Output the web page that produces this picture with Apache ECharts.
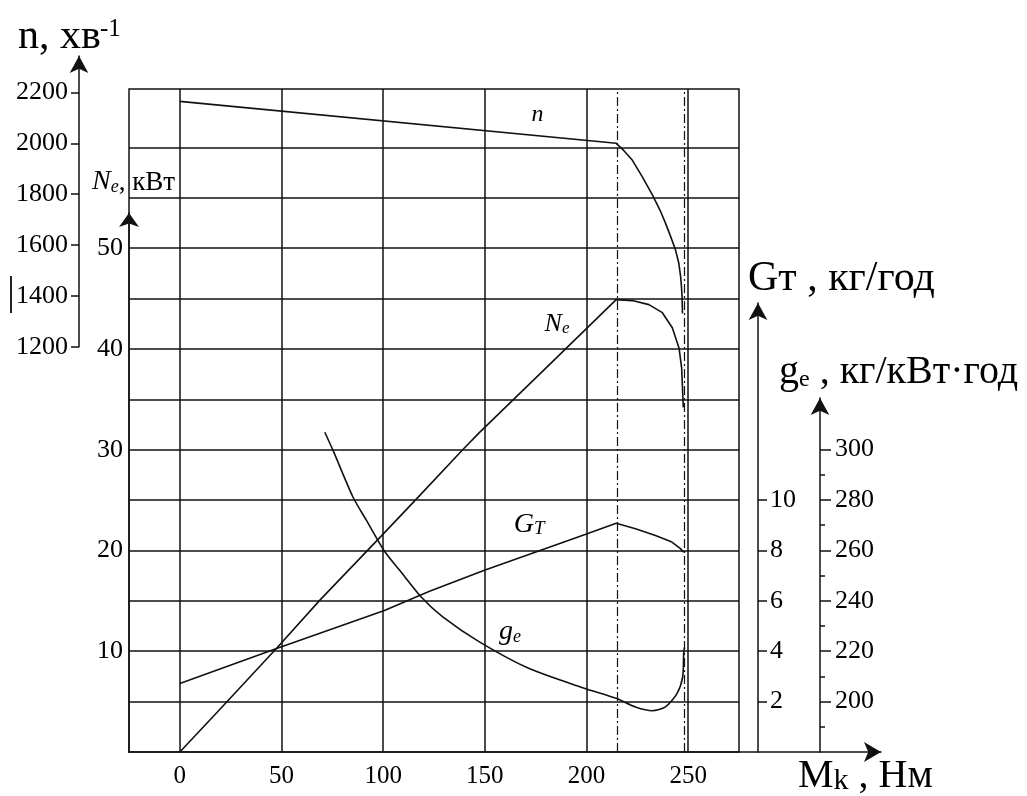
<!DOCTYPE html>
<html><head><meta charset="utf-8">
<script src="https://cdn.jsdelivr.net/npm/echarts@6/dist/echarts.min.js"></script>
<style>html,body{margin:0;padding:0;background:#fff}#c{width:1027px;height:796px}</style>
</head><body><div id="c"></div>
<script>
// ---- data ----
const torqueTicks = [0, 50, 100, 150, 200, 250];
const speedTicks = [1200, 1400, 1600, 1800, 2000, 2200];
const powerTicks = [10, 20, 30, 40, 50];
const powerGrid = [5, 10, 15, 20, 25, 30, 35, 40, 45, 50, 55, 60];
const fuelTicks = [2, 4, 6, 8, 10];
const sfcTicks = [200, 220, 240, 260, 280, 300];
const sfcMinorTicks = [190, 210, 230, 250, 270, 290];
const markTorque = [215, 248];

const speedM = [0, 214.6, 218.4, 222.5, 227.4, 232.4, 236.5, 238.9, 241.4, 243.8, 245.4, 246.3, 246.7, 247.0, 247.2];
const speedN = [2165, 2000, 1971, 1934, 1869, 1797, 1731, 1685, 1633, 1580, 1528, 1475, 1436, 1397, 1331];

const powerM = [0, 19.5, 47.6, 69, 97.5, 116.3, 139.1, 147.3, 180, 214.6, 222.5, 230.7, 237.3, 242.2, 245.5, 246.8, 247.4, 247.6];
const powerNe = [0, 4.2, 10.3, 15.1, 21.1, 25.1, 30.0, 31.7, 38.1, 44.9, 44.8, 44.4, 43.6, 42.1, 40.1, 38.1, 35.2, 34.2];

const fuelM = [0, 47.6, 100.6, 122.8, 149.8, 178.2, 199.3, 214.6, 224.1, 233.9, 242.0, 246.2, 247.8];
const fuelGt = [2.72, 4.11, 5.62, 6.38, 7.21, 8.03, 8.63, 9.08, 8.86, 8.59, 8.33, 8.07, 7.93];

const sfcM = [71.3, 75.4, 85.2, 91.8, 100.4, 108.1, 118.7, 129.3, 147.3, 171.8, 199.3, 214.6, 224.1, 232.3, 238.8, 244.5, 247.3, 247.8, 248.2];
const sfcGe = [306.9, 299.6, 281.1, 271.9, 260, 252.1, 241.5, 233.6, 223.7, 213.1, 205.2, 201.3, 197.9, 196.4, 197.9, 203.2, 209.8, 219.1, 221.5];

// ---- helpers ----
const zip = (a, b) => a.map((v, i) => [v, b[i]]);
const FONT = 'Liberation Serif';
const BLACK = '#111';
const lbl = (size, margin, vals) => ({ show: true, customValues: vals, color: '#000', fontFamily: FONT, fontSize: size, margin: margin, formatter: v => String(v) });
const hiddenX = (gi) => ({ type: 'value', gridIndex: gi, min: -25, max: 275, show: false });
const arrowLine = (size) => ({ show: true, onZero: false, symbol: ['none', 'arrow'], symbolSize: size, lineStyle: { color: BLACK, width: 1.5 } });
const curveStyle = { color: BLACK, width: 1.6 };
const textLabel = (coord, fmt, rich) => ({
  symbol: 'circle', symbolSize: 1, itemStyle: { color: 'rgba(0,0,0,0)' },
  label: { show: true, position: 'inside', formatter: fmt, rich: rich },
  data: [{ coord: coord }], silent: true, animation: false
});
const it = (s) => ({ fontFamily: FONT, fontStyle: 'italic', fontSize: s, color: '#000', lineHeight: s, verticalAlign: 'bottom' });
const up = (s) => ({ fontFamily: FONT, fontSize: s, color: '#000', lineHeight: s, verticalAlign: 'bottom' });

const chart = echarts.init(document.getElementById('c'));
chart.setOption({
  animation: false,
  backgroundColor: '#fff',
  grid: [
    { left: 129, width: 610, top: 89, height: 663, show: true, borderColor: BLACK, borderWidth: 1.5 }, // main
    { left: 129, width: 752, top: 740, height: 12 },  // x axis visual
    { left: 129, width: 610, top: 56, height: 290.7 }, // n
    { left: 129, width: 610, top: 213, height: 539 },  // Ne
    { left: 129, width: 610, top: 303, height: 449 },  // Gt
    { left: 129, width: 610, top: 398, height: 354 }   // ge
  ],
  xAxis: [
    { type: 'value', gridIndex: 0, min: -25, max: 275,
      axisLine: { show: false }, axisLabel: { show: false },
      axisTick: { show: false, customValues: torqueTicks },
      splitLine: { show: true, lineStyle: { color: BLACK, width: 1.5 } } },
    { type: 'value', gridIndex: 1, min: -25, max: 344.8, position: 'bottom',
      axisLine: arrowLine([15, 17]),
      axisTick: { show: false, customValues: torqueTicks },
      axisLabel: lbl(25, 12, torqueTicks),
      splitLine: { show: false } },
    hiddenX(2), hiddenX(3), hiddenX(4), hiddenX(5)
  ],
  yAxis: [
    { type: 'value', gridIndex: 0, min: 0, max: 65.8,
      axisLine: { show: false }, axisLabel: { show: false },
      axisTick: { show: false, customValues: powerGrid },
      splitLine: { show: true, lineStyle: { color: BLACK, width: 1.5 } } },
    { type: 'value', gridIndex: 1, min: 0, max: 1, show: false },
    { type: 'value', gridIndex: 2, min: 1200, max: 2343.4, position: 'left', offset: 50,
      axisLine: arrowLine([14, 17]),
      axisTick: { show: true, customValues: speedTicks, length: 8, lineStyle: { color: BLACK, width: 1.5 } },
      axisLabel: lbl(26, 11, speedTicks), splitLine: { show: false } },
    { type: 'value', gridIndex: 3, min: 0, max: 53.49, position: 'left',
      axisLine: arrowLine([15, 14]),
      axisTick: { show: false, customValues: powerTicks },
      axisLabel: lbl(26, 6, powerTicks), splitLine: { show: false } },
    { type: 'value', gridIndex: 4, min: 0, max: 17.82, position: 'right', offset: 19,
      axisLine: arrowLine([14, 17]),
      axisTick: { show: true, customValues: fuelTicks, length: 9, lineStyle: { color: BLACK, width: 1.5 } },
      axisLabel: lbl(26, 12, fuelTicks), splitLine: { show: false } },
    { type: 'value', gridIndex: 5, min: 180, max: 320.5, position: 'right', offset: 81,
      axisLine: arrowLine([14, 17]),
      axisTick: { show: true, customValues: sfcTicks, length: 11, lineStyle: { color: BLACK, width: 1.5 } },
      axisLabel: lbl(26, 15, sfcTicks), splitLine: { show: false } },
    { type: 'value', gridIndex: 5, min: 180, max: 320.5, position: 'right', offset: 81,
      axisLine: { show: false, onZero: false }, axisLabel: { show: false },
      axisTick: { show: true, customValues: sfcMinorTicks, length: 5, lineStyle: { color: BLACK, width: 1.5 } },
      splitLine: { show: false } }
  ],
  series: [
    { name: 'n', type: 'line', xAxisIndex: 2, yAxisIndex: 2, data: zip(speedM, speedN),
      symbol: 'none', clip: false, lineStyle: curveStyle, silent: true,
      markPoint: textLabel([175.9, 2111], '{a|n}', { a: it(24) }) },
    { name: 'Ne', type: 'line', xAxisIndex: 0, yAxisIndex: 0, data: zip(powerM, powerNe),
      symbol: 'none', clip: false, lineStyle: curveStyle, silent: true,
      markLine: { silent: true, symbol: ['none', 'none'], label: { show: false },
        lineStyle: { type: [9, 3, 2, 3], color: BLACK, width: 1.2 },
        data: markTorque.map(v => ({ xAxis: v })) },
      markPoint: textLabel([185.5, 42.5], '{a|N}{b|е}', { a: it(26), b: it(17) }) },
    { name: 'Gt', type: 'line', xAxisIndex: 4, yAxisIndex: 4, data: zip(fuelM, fuelGt),
      symbol: 'none', clip: false, lineStyle: curveStyle, silent: true,
      markPoint: textLabel([171.8, 9.01], '{a|G}{b|T}', { a: it(28), b: it(19) }) },
    { name: 'ge', type: 'line', xAxisIndex: 5, yAxisIndex: 5, data: zip(sfcM, sfcGe),
      symbol: 'none', clip: false, smooth: 0.25, lineStyle: curveStyle, silent: true,
      markPoint: textLabel([162.4, 227.6], '{a|g}{b|е}', { a: it(28), b: it(18) }) }
  ],
  graphic: [
    { type: 'text', x: 18, y: 37, style: { text: 'n, хв', fontFamily: FONT, fontSize: 42, fill: '#000', align: 'left', verticalAlign: 'middle' } },
    { type: 'text', x: 100, y: 29, style: { text: '-1', fontFamily: FONT, fontSize: 25, fill: '#000', align: 'left', verticalAlign: 'middle' } },
    { type: 'text', x: 92, y: 182, style: { text: '{a|N}{b|е}{c|, кВт}', align: 'left', verticalAlign: 'middle',
        rich: { a: it(28), b: it(18), c: up(27) } } },
    { type: 'text', x: 748, y: 279, style: { text: 'Gт , кг/год', fontFamily: FONT, fontSize: 42, fill: '#000', align: 'left', verticalAlign: 'middle' } },
    { type: 'text', x: 779, y: 372, style: { text: '{a|g}{b|е}{c| , кг/кВт·год}', align: 'left', verticalAlign: 'middle',
        rich: { a: up(40), b: up(24), c: up(40) } } },
    { type: 'text', x: 798, y: 776, style: { text: '{a|M}{b|k}{c| , Нм}', align: 'left', verticalAlign: 'middle',
        rich: { a: up(40), b: up(30), c: up(40) } } },
    { type: 'line', shape: { x1: 11, y1: 276, x2: 11, y2: 313 }, style: { stroke: '#222', lineWidth: 2 } }
  ]
});
</script></body></html>
